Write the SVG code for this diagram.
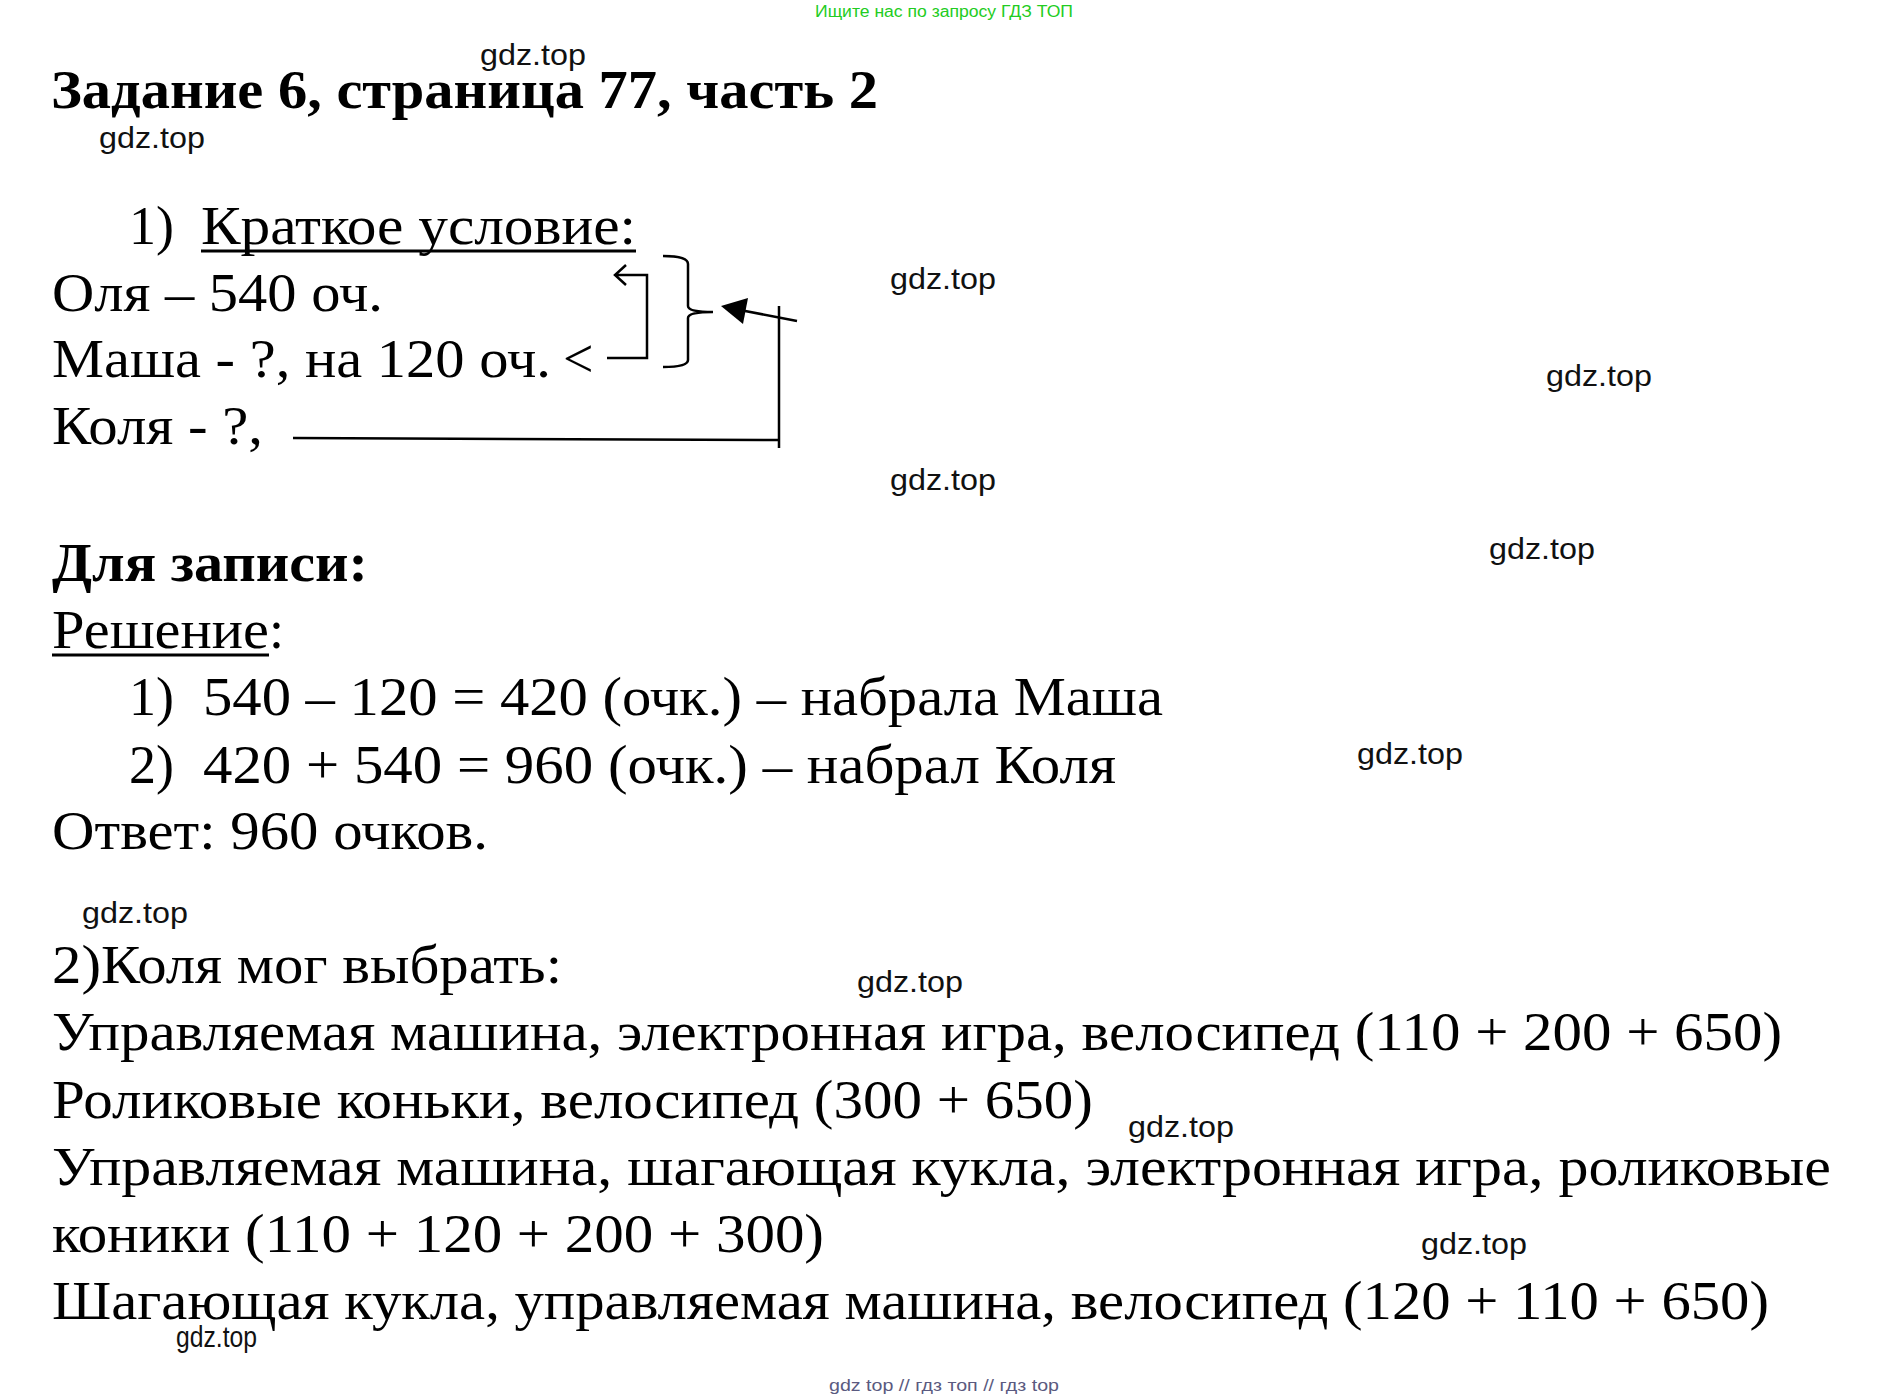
<svg xmlns="http://www.w3.org/2000/svg" width="1881" height="1394" viewBox="0 0 1881 1394">
<style>
.t{font-family:"Liberation Serif","DejaVu Serif",serif;font-size:54px;fill:#000}
.b{font-weight:bold}
.w{font-family:"Liberation Sans","DejaVu Sans",sans-serif;font-size:29px;fill:#111}
.ln{stroke:#000;fill:none;stroke-width:2.5}
</style>
<rect width="1881" height="1394" fill="#fff"/>
<text x="944" y="17" text-anchor="middle" font-family="Liberation Sans, sans-serif" font-size="16" fill="#22cc22" textLength="258" lengthAdjust="spacingAndGlyphs">Ищите нас по запросу ГДЗ ТОП</text>
<text class="t b" x="51" y="108" font-size="56" textLength="827" lengthAdjust="spacingAndGlyphs">Задание 6, страница 77, часть 2</text>
<g id="cond">
<text class="t" x="129" y="244">1)</text>
<text class="t" x="201" y="244" textLength="435" lengthAdjust="spacingAndGlyphs">Краткое условие:</text>
<line x1="201" y1="251" x2="636" y2="251" stroke="#000" stroke-width="3"/>
<text class="t" x="52" y="311" textLength="331" lengthAdjust="spacingAndGlyphs">Оля – 540 оч.</text>
<text class="t" x="52" y="377" textLength="499" lengthAdjust="spacingAndGlyphs">Маша - ?, на 120 оч.</text>
<text class="t" x="563" y="377">&lt;</text>
<text class="t" x="52" y="444" textLength="211" lengthAdjust="spacingAndGlyphs">Коля - ?,</text>
</g>
<g id="connectors">
<path class="ln" stroke-width="1.5" d="M615 275 H647 V358 H607 M626 265 L615 275 L626 285"/>
<path class="ln" d="M663 256 Q688 256 688 264 V306 Q688 312 713 312 Q688 312 688 318 V360 Q688 367 663 367"/>
<line class="ln" x1="797" y1="321" x2="740" y2="310" stroke-width="3"/>
<polygon points="721,306 748,298 743,324" fill="#000"/>
<path class="ln" d="M293 438 L779 440 M779 306 V448"/>
</g>
<g id="solution">
<text class="t b" x="52" y="581" textLength="316" lengthAdjust="spacingAndGlyphs">Для записи:</text>
<text class="t" x="52" y="648" textLength="217" lengthAdjust="spacingAndGlyphs">Решение</text><text class="t" x="269" y="648">:</text>
<line x1="52" y1="655" x2="269" y2="655" stroke="#000" stroke-width="3"/>
<text class="t" x="129" y="715">1)</text>
<text class="t" x="203" y="715" textLength="960" lengthAdjust="spacingAndGlyphs">540 – 120 = 420 (очк.) – набрала Маша</text>
<text class="t" x="129" y="783">2)</text>
<text class="t" x="203" y="783" textLength="913" lengthAdjust="spacingAndGlyphs">420 + 540 = 960 (очк.) – набрал Коля</text>
<text class="t" x="52" y="849" textLength="436" lengthAdjust="spacingAndGlyphs">Ответ: 960 очков.</text>
<text class="t" x="52" y="983" textLength="510" lengthAdjust="spacingAndGlyphs">2)Коля мог выбрать:</text>
<text class="t" x="52" y="1050" textLength="1730" lengthAdjust="spacingAndGlyphs">Управляемая машина, электронная игра, велосипед (110 + 200 + 650)</text>
<text class="t" x="52" y="1118" textLength="1041" lengthAdjust="spacingAndGlyphs">Роликовые коньки, велосипед (300 + 650)</text>
<text class="t" x="52" y="1185" textLength="1779" lengthAdjust="spacingAndGlyphs">Управляемая машина, шагающая кукла, электронная игра, роликовые</text>
<text class="t" x="52" y="1252" textLength="772" lengthAdjust="spacingAndGlyphs">коники (110 + 120 + 200 + 300)</text>
<text class="t" x="52" y="1319" textLength="1717" lengthAdjust="spacingAndGlyphs">Шагающая кукла, управляемая машина, велосипед (120 + 110 + 650)</text>
</g>
<g id="wm">
<text class="w" x="480" y="65" textLength="106" lengthAdjust="spacingAndGlyphs">gdz.top</text>
<text class="w" x="99" y="148" textLength="106" lengthAdjust="spacingAndGlyphs">gdz.top</text>
<text class="w" x="890" y="289" textLength="106" lengthAdjust="spacingAndGlyphs">gdz.top</text>
<text class="w" x="1546" y="386" textLength="106" lengthAdjust="spacingAndGlyphs">gdz.top</text>
<text class="w" x="890" y="490" textLength="106" lengthAdjust="spacingAndGlyphs">gdz.top</text>
<text class="w" x="1489" y="559" textLength="106" lengthAdjust="spacingAndGlyphs">gdz.top</text>
<text class="w" x="1357" y="764" textLength="106" lengthAdjust="spacingAndGlyphs">gdz.top</text>
<text class="w" x="82" y="923" textLength="106" lengthAdjust="spacingAndGlyphs">gdz.top</text>
<text class="w" x="857" y="992" textLength="106" lengthAdjust="spacingAndGlyphs">gdz.top</text>
<text class="w" x="1128" y="1137" textLength="106" lengthAdjust="spacingAndGlyphs">gdz.top</text>
<text class="w" x="1421" y="1254" textLength="106" lengthAdjust="spacingAndGlyphs">gdz.top</text>
<text class="w" x="176" y="1347" font-size="24" textLength="81" lengthAdjust="spacingAndGlyphs">gdz.top</text>
</g>
<text x="944" y="1391" text-anchor="middle" font-family="Liberation Sans, sans-serif" font-size="17" fill="#5a5a80" textLength="230" lengthAdjust="spacingAndGlyphs">gdz top  //  гдз топ  //  гдз top</text>
</svg>
